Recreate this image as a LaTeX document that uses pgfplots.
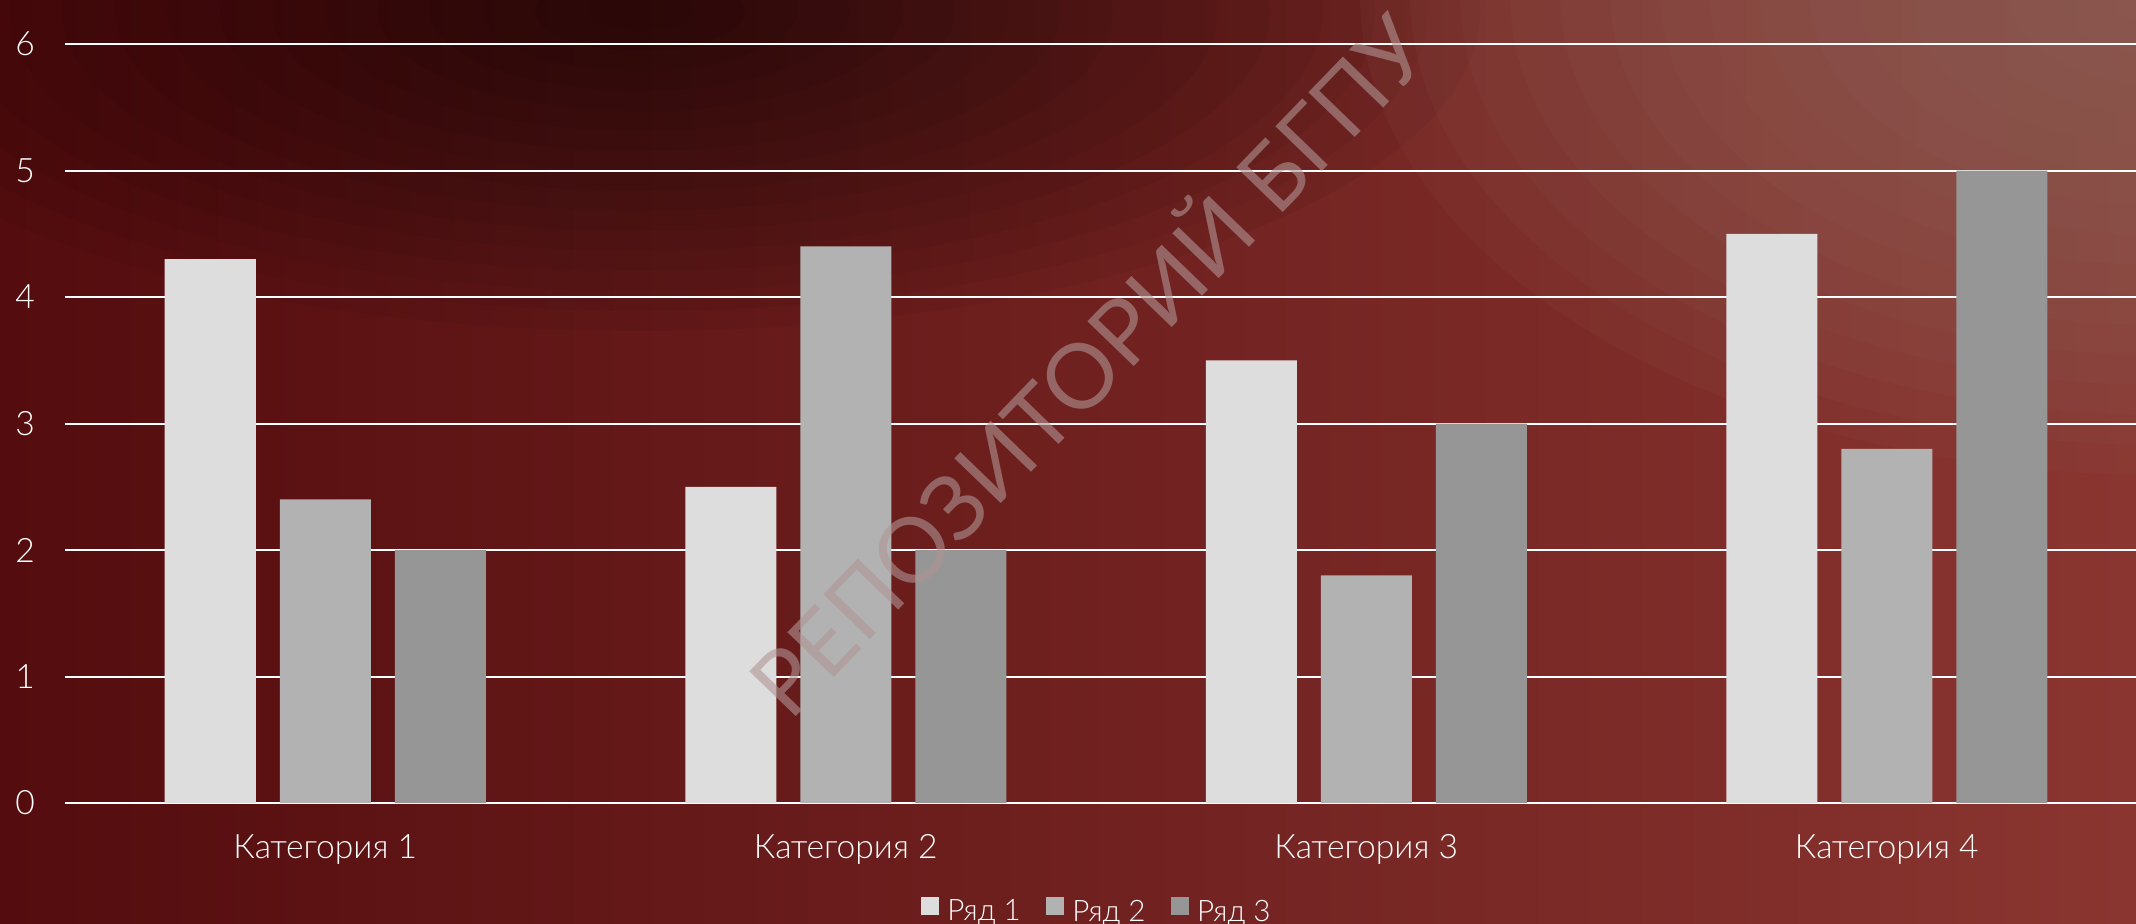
\documentclass[border=0pt]{standalone}
\usepackage{fontspec}
\setmainfont{Lato Light}
\newfontfamily\wmfont{Lato}
\usepackage{pgfplots}
\pgfplotsset{compat=1.18}
\definecolor{serA}{HTML}{DDDDDD}
\definecolor{serB}{HTML}{B2B2B2}
\definecolor{serC}{HTML}{969696}
\definecolor{bgL}{HTML}{540C0E}
\definecolor{bgM}{HTML}{5E1517}
\definecolor{bgR}{HTML}{8A3530}
\definecolor{bgTR}{HTML}{93665C}
\definecolor{wm}{HTML}{B09494}

\begin{document}
\begin{tikzpicture}
% background (1 px of the reference = 0.25pt)
\shade[left color=bgL, middle color=bgM, right color=bgR] (0,0) rectangle (534pt,230.75pt);
\begin{scope}
  \clip (0,0) rectangle (534pt,230.75pt);
  % dark patch, top left
  \foreach \k in {1,...,16}
    \fill[black, opacity=0.045] (160pt,228pt) ellipse ({210pt*\k/16} and {80pt*\k/16});
  % greyish light patch, top right
  \foreach \k in {1,...,16}
    \fill[bgTR, opacity=0.09] (540pt,232pt) ellipse ({200pt*\k/16} and {120pt*\k/16});
\end{scope}

\begin{axis}[
    at={(16.25pt,30pt)}, anchor=south west,
    scale only axis, width=520.5pt, height=189.75pt,
    ybar, bar width=22.75pt, ybar=6pt,
    xmin=-0.5, xmax=3.5, ymin=0, ymax=6,
    xtick=data, ytick={0,1,...,6},
    xticklabels={Категория 1, Категория 2, Категория 3, Категория 4},
    axis line style={draw=none}, major tick length=0pt,
    ymajorgrids, grid style={white, line width=0.5pt},
    tick label style={text=white, font=\fontsize{8.4}{9}\selectfont},
    /pgf/number format/assume math mode=true,
    yticklabel style={xshift=-4pt},
    xticklabel style={yshift=-4.4pt},
    legend style={at={(0.497,0)}, anchor=center, yshift=-27.6pt,
      draw=none, fill=none, text=white, font=\fontsize{7.4}{8}\selectfont,
      legend columns=-1,
      /tikz/every even column/.append style={column sep=4.3pt}},
    sq/.style={fill=#1, draw=none,
      legend image code/.code={\fill[fill=#1] (0pt,-0.4pt) rectangle (4.6pt,4.2pt);}},
  ]
  \addplot[sq=serA] coordinates {(0,4.3) (1,2.5) (2,3.5) (3,4.5)};
  \addplot[sq=serB] coordinates {(0,2.4) (1,4.4) (2,1.8) (3,2.8)};
  \addplot[sq=serC] coordinates {(0,2.0) (1,2.0) (2,3.0) (3,5.0)};
  \legend{Ряд 1, Ряд 2, Ряд 3}
\end{axis}

% watermark
\node[rotate=46, text=wm, opacity=0.6, font=\wmfont\fontsize{22.5}{22.5}\selectfont]
  at (271pt,140.5pt) {РЕПОЗИТОРИЙ БГПУ};

\pgfresetboundingbox
\path (0,0) rectangle (534pt,230.75pt);
\end{tikzpicture}
\end{document}
